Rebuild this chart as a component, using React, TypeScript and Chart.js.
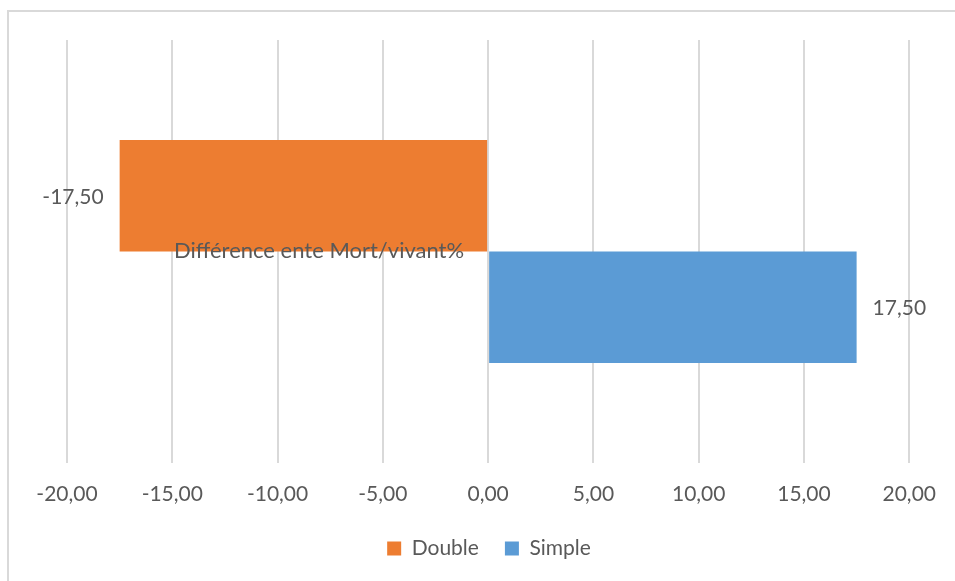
import React, { useEffect, useRef } from "react";
import { Chart, registerables } from "chart.js";

Chart.register(...registerables);

const categories = ["Différence ente Mort/vivant%"];
const seriesNames = ["Double", "Simple"];
const doubleValues = [-17.5];
const simpleValues = [17.5];
const tickMin = -20;
const tickMax = 20;
const tickStep = 5;

const FONT = "Lato";
const TEXT = "#595959";
const fmt = (v: number) => v.toFixed(2).replace(".", ",");

const labelPlugin = {
  id: "labelPlugin",
  afterDatasetsDraw(chart: any) {
    const ctx = chart.ctx;
    const xs = chart.scales.x;
    const ys = chart.scales.y;
    ctx.save();
    ctx.font = `21px ${FONT}`;
    ctx.fillStyle = TEXT;
    ctx.textBaseline = "alphabetic";
    chart.data.datasets.forEach((ds: any, di: number) => {
      const meta = chart.getDatasetMeta(di);
      meta.data.forEach((bar: any, i: number) => {
        const v = ds.data[i];
        const t = fmt(v);
        if (v < 0) {
          ctx.textAlign = "right";
          ctx.fillText(t, bar.x - 16, bar.y + 8);
        } else {
          ctx.textAlign = "left";
          ctx.fillText(t, bar.x + 16, bar.y + 8);
        }
      });
    });
    ctx.font = `22px ${FONT}`;
    categories.forEach((c, i) => {
      ctx.textAlign = "right";
      ctx.fillText(c, xs.getPixelForValue(0) - 24, ys.getPixelForValue(i) + 6);
    });
    ctx.restore();
  },
};

export default function App() {
  const ref = useRef<HTMLCanvasElement | null>(null);
  useEffect(() => {
    if (!ref.current) return;
    const chart = new Chart(ref.current, {
      type: "bar",
      data: {
        labels: categories,
        datasets: [
          {
            label: seriesNames[0],
            data: doubleValues,
            backgroundColor: "#ED7D31",
            borderWidth: 0,
            categoryPercentage: 0.527,
            barPercentage: 1,
          },
          {
            label: seriesNames[1],
            data: simpleValues,
            backgroundColor: "#5B9BD5",
            borderWidth: 0,
            categoryPercentage: 0.527,
            barPercentage: 1,
          },
        ],
      },
      options: {
        indexAxis: "y",
        responsive: false,
        animation: false,
        devicePixelRatio: 1,
        layout: { padding: { top: 40, left: 67, right: 44, bottom: 12 } },
        scales: {
          x: {
            min: tickMin,
            max: tickMax,
            border: { display: false },
            grid: { color: "#D9D9D9", lineWidth: 2, drawTicks: false },
            ticks: {
              stepSize: tickStep,
              padding: 19,
              color: TEXT,
              font: { family: FONT, size: 21 },
              callback: (v: any) => fmt(Number(v)),
            },
            afterFit: (scale: any) => {
              scale.height = 49;
            },
          },
          y: { display: false },
        },
        plugins: {
          legend: {
            position: "bottom",
            labels: {
              boxWidth: 14,
              boxHeight: 14,
              padding: 26,
              color: TEXT,
              font: { family: FONT, size: 21 },
            },
          },
          tooltip: { enabled: false },
        },
      },
      plugins: [labelPlugin],
    });
    return () => chart.destroy();
  }, []);
  return (
    <div style={{ position: "absolute", left: 0, top: 0, width: 955, height: 581, overflow: "hidden", background: "#fff" }}>
      <div
        style={{
          position: "absolute",
          left: 7,
          top: 10,
          width: 1000,
          height: 1000,
          borderTop: "2px solid #D9D9D9",
          borderLeft: "2px solid #D9D9D9",
        }}
      />
      <canvas ref={ref} width={955} height={581} style={{ position: "absolute", left: 0, top: 0 }} />
    </div>
  );
}
